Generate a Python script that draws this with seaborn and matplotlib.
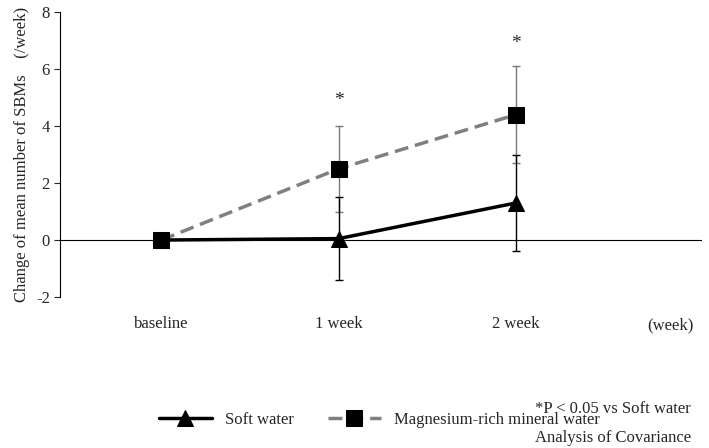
import matplotlib
matplotlib.use("Agg")
import matplotlib.pyplot as plt
import seaborn as sns
import pandas as pd

categories = ["baseline", "1 week", "2 week"]
soft_mean = [0, 0.05, 1.3]
soft_err = [0, 1.45, 1.7]
mg_mean = [0, 2.5, 4.4]
mg_err = [0, 1.5, 1.7]
stars_y = [None, 4.6, 6.6]

sns.set_style("white")
plt.rcParams['font.family'] = ['Liberation Serif', 'DejaVu Serif']
plt.rcParams['axes.unicode_minus'] = False

fig = plt.figure(figsize=(7.09, 4.48), dpi=100)
ax = fig.add_axes([0.085, 0.337, 0.905, 0.636])

x = list(range(len(categories)))
df = pd.DataFrame({"x": x * 2, "y": soft_mean + mg_mean,
                   "grp": ["Soft water"] * 3 + ["Magnesium-rich mineral water"] * 3})

ax.errorbar(x, mg_mean, yerr=mg_err, fmt="none", ecolor="#777777", elinewidth=1, capsize=3, zorder=1)
ax.errorbar(x, soft_mean, yerr=soft_err, fmt="none", ecolor="black", elinewidth=1, capsize=3, zorder=1)
sns.lineplot(data=df[df.grp == "Soft water"], x="x", y="y", color="black", lw=2.5,
             marker="^", markersize=12, markeredgecolor="black", ax=ax, label="Soft water", zorder=3)
sns.lineplot(data=df[df.grp != "Soft water"], x="x", y="y", color="#808080", lw=2.5,
             linestyle="--", marker="s", markersize=12, markerfacecolor="black",
             markeredgecolor="black", ax=ax, label="Magnesium-rich mineral water", zorder=2)
ax.lines[-1].set_dashes([4, 2])

for xi, s in zip(x, stars_y):
    if s is not None:
        ax.text(xi, s, "*", ha="center", va="bottom", fontsize=14)

ax.axhline(0, color="black", lw=0.8, zorder=0)
ax.set_xlim(-0.57, 3.05)
ax.set_ylim(-2, 8)
ax.set_yticks(range(-2, 9, 2))
ax.set_xticks(x)
ax.set_xticklabels(categories, fontsize=12)
ax.tick_params(axis="x", length=0, pad=14)
ax.tick_params(axis="y", labelsize=12, left=True, length=4)
for sp in ["top", "right", "bottom"]:
    ax.spines[sp].set_visible(False)
ax.spines["left"].set_color("black")
ax.set_xlabel("")
ax.set_ylabel("Change of mean number of SBMs    (/week)", fontsize=12)
ax.text(0.915, -0.1, "(week)", fontsize=12, va="center", ha="left", transform=ax.transAxes)

leg = ax.legend(loc="center left", bbox_to_anchor=(0.13, -0.43), ncol=2, frameon=False,
                fontsize=12, handlelength=3.2, columnspacing=2)

fig.text(0.755, 0.088, "*P < 0.05 vs Soft water", fontsize=12, va="center")
fig.text(0.755, 0.022, "Analysis of Covariance", fontsize=12, va="center")

fig.savefig("out.png", dpi=100)
